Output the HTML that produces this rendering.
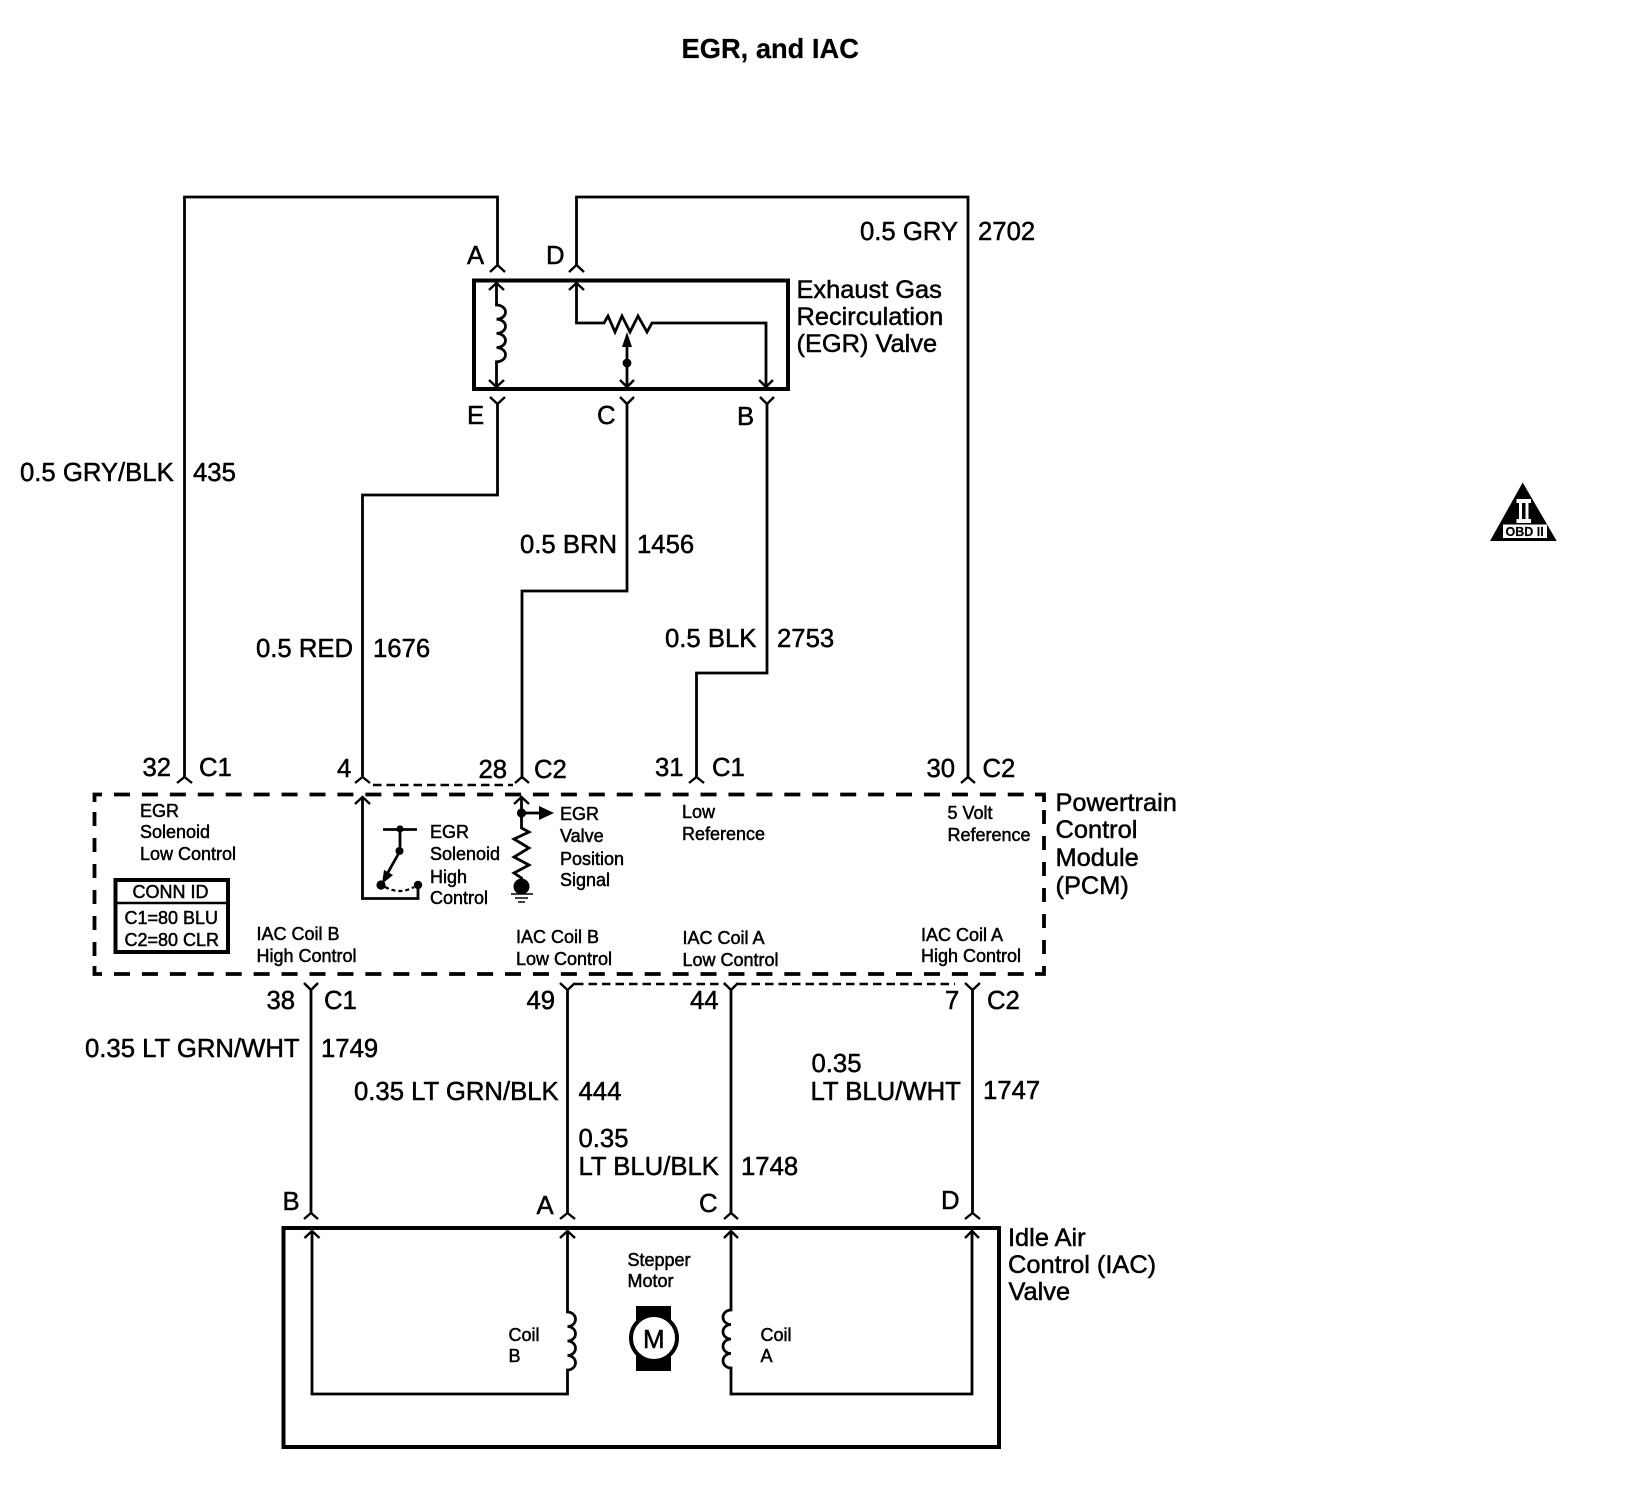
<!DOCTYPE html>
<html><head><meta charset="utf-8"><style>
html,body{margin:0;padding:0;background:#fff}
svg{display:block}
text{font-family:"Liberation Sans",sans-serif;fill:#000;stroke:#000;stroke-width:.5}
.l{font-size:25.7px}
.p{font-size:25.4px}
.s{font-size:18px}
.w{fill:none;stroke:#000;stroke-width:2.8;stroke-linejoin:miter}
.t{fill:none;stroke:#000;stroke-width:2.4}
</style></head><body>
<svg width="1646" height="1504" viewBox="0 0 1646 1504" xmlns="http://www.w3.org/2000/svg">
<rect width="1646" height="1504" fill="#fff"/>
<text x="681.5" y="58" style="font-size:27.3px;font-weight:bold;stroke-width:.2">EGR, and IAC</text>

<!-- wires upper -->
<path class="w" d="M184.5 777V197H497.5V265"/>
<path class="w" d="M968 777V197H576.5V265"/>
<path class="w" d="M497.5 403V495H362.5V777"/>
<path class="w" d="M627 403V591H522V777"/>
<path class="w" d="M767 403V673H696.5V777"/>
<!-- connector chevrons EGR top -->
<path class="t" d="M490 272L497.5 265L505 272M569 272L576.5 265L584 272"/>
<!-- forks under EGR -->
<path class="t" d="M490 397L497.5 404L505 397M620 397L627 404L634 397M760 397L767 404L774 397"/>
<!-- EGR box -->
<rect x="474" y="280.5" width="314" height="108.5" fill="none" stroke="#000" stroke-width="4"/>
<!-- EGR internals -->
<path class="w" d="M496.5 284V305a9 7.1 0 0 1 0 14.2a9 7.1 0 0 1 0 14.2a9 7.1 0 0 1 0 14.2a9 7.1 0 0 1 0 14.2V386"/>
<path class="t" d="M489 290L496.5 283L504 290M489 380L496.5 387L504 380"/>
<path class="w" d="M576.5 284V323H604L608 316L615 332L622 316L630 332L638 316L647 332L652 323H766V386"/>
<path class="t" d="M569 290L576.5 283L584 290M759 380L766 387L773 380"/>
<path class="w" d="M627 345V386"/>
<polygon points="627,332 622,347 632,347"/>
<circle cx="627" cy="363" r="4.4"/>
<path class="t" d="M620 380L627 387L634 380"/>
<!-- EGR labels -->
<text class="l" x="467" y="264">A</text>
<text class="l" x="546" y="264">D</text>
<text class="l" x="467" y="424">E</text>
<text class="l" x="597" y="424">C</text>
<text class="l" x="737" y="425">B</text>
<text class="p" x="796.5" y="298">Exhaust Gas</text>
<text class="p" x="796.5" y="325">Recirculation</text>
<text class="p" x="796.5" y="352">(EGR) Valve</text>
<text class="l" x="860" y="240">0.5 GRY</text>
<text class="l" x="978" y="240">2702</text>
<text class="l" x="20" y="481">0.5 GRY/BLK</text>
<text class="l" x="193" y="481">435</text>
<text class="l" x="256" y="657">0.5 RED</text>
<text class="l" x="373" y="657">1676</text>
<text class="l" x="520" y="553">0.5 BRN</text>
<text class="l" x="637" y="553">1456</text>
<text class="l" x="665" y="647">0.5 BLK</text>
<text class="l" x="777" y="647">2753</text>

<!-- PCM dashed box -->
<g fill="none" stroke="#000" stroke-width="3.8">
<path d="M94.5 802V794.5H102M1035 794.5H1044V802M94.5 966V974H102M1035 974H1044V966"/>
<path d="M114 794.5H1032M114 974H1032" stroke-dasharray="16 11.93"/>
<path d="M94.5 812V960M1044 810V960" stroke-dasharray="14 12"/>
</g>
<path class="t" d="M177 783L184.5 777L192 783M355 783L362.5 777L370 783M515 783L522 777L529 783M689 783L696.5 777L704 783M961 783L968 777L975 783"/>
<path d="M373 785H513" fill="none" stroke="#000" stroke-width="2.4" stroke-dasharray="8.5 5"/>
<path d="M575 984H725M738 984H955" fill="none" stroke="#000" stroke-width="2.4" stroke-dasharray="8.5 5"/>
<text class="l" x="142.5" y="776">32</text>
<text class="l" x="199" y="776">C1</text>
<text class="l" x="337" y="777">4</text>
<text class="l" x="478.5" y="778">28</text>
<text class="l" x="534" y="778">C2</text>
<text class="l" x="655" y="776">31</text>
<text class="l" x="712" y="776">C1</text>
<text class="l" x="926.5" y="777">30</text>
<text class="l" x="982.5" y="777">C2</text>

<text class="s" x="140" y="817">EGR</text>
<text class="s" x="140" y="838">Solenoid</text>
<text class="s" x="140" y="860">Low Control</text>

<!-- switch -->
<path class="w" d="M362.5 798V898.5H418V885"/>
<path class="t" d="M355 804L362.5 797L370 804"/>
<path class="w" d="M383 829.5H417M400 829.5V851L386 876"/>
<circle cx="400" cy="829" r="3.6"/>
<circle cx="399.5" cy="851" r="4"/>
<polygon points="382,884 384,870 393,875"/>
<circle cx="381" cy="885" r="4.6"/>
<circle cx="418" cy="885" r="4.2"/>
<path d="M385 887Q400 895 414 887" fill="none" stroke="#000" stroke-width="2.2" stroke-dasharray="4 3"/>
<text class="s" x="430" y="838">EGR</text>
<text class="s" x="430" y="860">Solenoid</text>
<text class="s" x="430" y="883">High</text>
<text class="s" x="430" y="904">Control</text>

<!-- signal -->
<path class="w" d="M521.5 798V828L529 832L514 839L529 848L514 857L529 865L514 873L521.5 878V882"/>
<path class="t" d="M514 804L521.5 797L529 804"/>
<circle cx="521.5" cy="813" r="4.6"/>
<path class="w" d="M522 813H542"/>
<polygon points="539,806 554,813 539,820"/>
<circle cx="521.5" cy="886.5" r="8"/>
<path d="M511 894H533M515 898H528M518 902H525" fill="none" stroke="#000" stroke-width="1.6"/>
<text class="s" x="560" y="820">EGR</text>
<text class="s" x="560" y="842">Valve</text>
<text class="s" x="560" y="865">Position</text>
<text class="s" x="560" y="886">Signal</text>

<text class="s" x="682" y="818">Low</text>
<text class="s" x="682" y="840">Reference</text>
<text class="s" x="947.5" y="819">5 Volt</text>
<text class="s" x="947.5" y="841">Reference</text>

<!-- CONN ID -->
<rect x="115.5" y="880" width="112.5" height="72" fill="#fff" stroke="#000" stroke-width="4"/>
<path d="M115 903H228" stroke="#000" stroke-width="2.6" fill="none"/>
<text class="s" x="132.5" y="898">CONN ID</text>
<text class="s" x="124.5" y="924">C1=80 BLU</text>
<text class="s" x="124.5" y="946">C2=80 CLR</text>

<text class="s" x="256.5" y="940">IAC Coil B</text>
<text class="s" x="256.5" y="962">High Control</text>
<text class="s" x="516" y="943">IAC Coil B</text>
<text class="s" x="516" y="965">Low Control</text>
<text class="s" x="682.5" y="944">IAC Coil A</text>
<text class="s" x="682.5" y="966">Low Control</text>
<text class="s" x="921" y="941">IAC Coil A</text>
<text class="s" x="921" y="962">High Control</text>

<text class="p" x="1055.5" y="811">Powertrain</text>
<text class="p" x="1055.5" y="838">Control</text>
<text class="p" x="1055.5" y="866">Module</text>
<text class="p" x="1055.5" y="894">(PCM)</text>

<!-- lower wires -->
<path class="w" d="M311 990V1213M567.5 990V1213M731 990V1213M972.5 990V1213"/>
<path class="t" d="M304 983L311 990L318 983M560 983L567.5 990L575 983M724 983L731 990L738 983M965 983L972.5 990L980 983"/>
<path class="t" d="M304 1219L311 1213L318 1219M560 1219L567.5 1213L575 1219M724 1219L731 1213L738 1219M965 1219L972.5 1213L980 1219"/>
<text class="l" x="266.5" y="1009">38</text>
<text class="l" x="324" y="1009">C1</text>
<text class="l" x="526.5" y="1009">49</text>
<text class="l" x="690" y="1009">44</text>
<text class="l" x="945" y="1009">7</text>
<text class="l" x="987" y="1009">C2</text>
<text class="l" x="85" y="1057">0.35 LT GRN/WHT</text>
<text class="l" x="321" y="1057">1749</text>
<text class="l" x="354" y="1100">0.35 LT GRN/BLK</text>
<text class="l" x="578.5" y="1100">444</text>
<text class="l" x="578.5" y="1147">0.35</text>
<text class="l" x="578.5" y="1175">LT BLU/BLK</text>
<text class="l" x="741" y="1175">1748</text>
<text class="l" x="811.5" y="1072">0.35</text>
<text class="l" x="810.5" y="1100">LT BLU/WHT</text>
<text class="l" x="983" y="1099">1747</text>

<!-- IAC box -->
<rect x="283.5" y="1228" width="715.5" height="219" fill="none" stroke="#000" stroke-width="4"/>
<path class="w" d="M312 1232V1394H567.5V1370a8 7.25 0 0 0 0 -14.5a8 7.25 0 0 0 0 -14.5a8 7.25 0 0 0 0 -14.5a8 7.25 0 0 0 0 -14.5V1232"/>
<path class="w" d="M731 1232V1310a8 7.25 0 0 0 0 14.5a8 7.25 0 0 0 0 14.5a8 7.25 0 0 0 0 14.5a8 7.25 0 0 0 0 14.5V1394H972V1232"/>
<path class="t" d="M304.5 1238L312 1231L319.5 1238M560 1238L567.5 1231L575 1238M724 1238L731 1231L738 1238M965 1238L972 1231L979 1238"/>
<text class="l" x="282.5" y="1210">B</text>
<text class="l" x="536.5" y="1214">A</text>
<text class="l" x="699" y="1212">C</text>
<text class="l" x="941" y="1209">D</text>
<rect x="636" y="1306" width="35" height="65"/>
<circle cx="654" cy="1338" r="23" fill="#fff" stroke="#000" stroke-width="4"/>
<text x="643" y="1348" style="font-size:26px">M</text>
<text class="s" x="627.5" y="1266">Stepper</text>
<text class="s" x="627.5" y="1287">Motor</text>
<text class="s" x="508.5" y="1341">Coil</text>
<text class="s" x="508.5" y="1362">B</text>
<text class="s" x="760.5" y="1341">Coil</text>
<text class="s" x="760.5" y="1362">A</text>
<text class="p" x="1008" y="1246">Idle Air</text>
<text class="p" x="1008" y="1273">Control (IAC)</text>
<text class="p" x="1008.5" y="1300">Valve</text>

<!-- OBD -->
<polygon points="1522.7,482.5 1490,541 1556.7,541"/>
<path d="M1516.5 499H1531V503H1528.5V519H1531V523H1516.5V519H1519V503H1516.5Z" fill="#fff"/>
<rect x="1522" y="503" width="3.5" height="16"/>
<rect x="1503" y="524.5" width="44" height="13.5" fill="#fff"/>
<text x="1505.5" y="536" style="font-size:12.5px;font-weight:bold;stroke-width:.2">OBD II</text>
</svg>
</body></html>
